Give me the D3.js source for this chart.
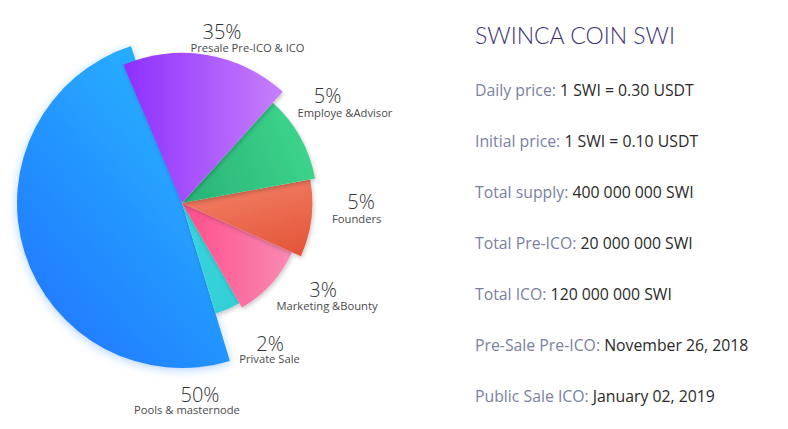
<!DOCTYPE html>
<html>
<head>
<meta charset="utf-8">
<script src="https://cdn.jsdelivr.net/npm/d3@7"></script>
<style>
  html, body { margin: 0; padding: 0; background: #ffffff; }
  svg { display: block; }
</style>
</head>
<body>
<svg id="chart" width="788" height="429"></svg>
<script>
// ---- data ----
const categories = ["Presale Pre-ICO & ICO", "Employe &Advisor", "Founders", "Marketing &Bounty", "Private Sale", "Pools & masternode"];
const percentLabels = [35, 5, 5, 3, 2, 50];            // printed percentages
const arcShare = [18.1, 10.4, 9.6, 10.0, 3.6, 48.3];   // visible angular share of each slice (% of circle)
const reach = [0.91, 0.82, 0.79, 0.73, 0.70, 1.0];    // relative slice radius
const infoKeys = ["Daily price:", "Initial price:", "Total supply:", "Total Pre-ICO:", "Total ICO:", "Pre-Sale Pre-ICO:", "Public Sale ICO:"];
const infoValues = ["1 SWI = 0.30 USDT", "1 SWI = 0.10 USDT", "400 000 000 SWI", "20 000 000 SWI", "120 000 000 SWI", "November 26, 2018", "January 02, 2019"];
const title = "SWINCA COIN SWI";

// ---- styles / layout ----
const gradients = [
  {from: "#8e2ffd", to: "#c780fb", x1: 0, y1: 0, x2: 1, y2: 0},
  {from: "#2cb87a", to: "#40d98f", x1: 0, y1: 0.3, x2: 1, y2: 0},
  {from: "#f27f66", to: "#e4573a", x1: 0.3, y1: 0, x2: 0.7, y2: 1},
  {from: "#ff4d89", to: "#f98bb4", x1: 0, y1: 0, x2: 1, y2: 0},
  {from: "#33d3dc", to: "#36d0d6", x1: 0, y1: 0, x2: 1, y2: 1},
  {from: "#2abaff", to: "#1e74ff", x1: 0.9, y1: 0, x2: 0.1, y2: 1}
];
const drawOrder = [5, 4, 3, 2, 1, 0];
const labelLayout = [
  {px: 222, py: 39,  nx: 247.5, ny: 51.7},
  {px: 327.5, py: 103.3, nx: 345, ny: 116.7},
  {px: 361, py: 209.3, nx: 356.7, ny: 222.7},
  {px: 323, py: 296.7, nx: 327, ny: 310.3},
  {px: 270, py: 351, nx: 269.5, ny: 362.7},
  {px: 200, py: 402, nx: 187, ny: 413.5}
];
const cx = 182, cy = 203, maxR = 165;
const deg = Math.PI / 180;

const svg = d3.select("#chart");
const defs = svg.append("defs");

gradients.forEach((g, i) => {
  const lg = defs.append("linearGradient").attr("id", "grad" + i)
    .attr("x1", g.x1).attr("y1", g.y1).attr("x2", g.x2).attr("y2", g.y2);
  lg.append("stop").attr("offset", "0%").attr("stop-color", g.from);
  lg.append("stop").attr("offset", "100%").attr("stop-color", g.to);
});

const sh = defs.append("filter").attr("id", "shadow")
  .attr("x", "-20%").attr("y", "-20%").attr("width", "140%").attr("height", "140%");
sh.append("feDropShadow").attr("dx", 1).attr("dy", 2).attr("stdDeviation", 2)
  .attr("flood-color", "#000").attr("flood-opacity", 0.22);

const glow = defs.append("filter").attr("id", "glow")
  .attr("x", "-20%").attr("y", "-20%").attr("width", "140%").attr("height", "140%");
glow.append("feDropShadow").attr("dx", 0).attr("dy", 2).attr("stdDeviation", 5)
  .attr("flood-color", "#2a7dff").attr("flood-opacity", 0.35);

const rScale = d3.scaleLinear().domain([0, 1]).range([0, maxR]);
const pie = d3.pie().sort(null).value(d => d).startAngle(-23 * deg).endAngle(337 * deg);
const arcsData = pie(arcShare);

const g = svg.append("g").attr("transform", `translate(${cx},${cy})`);
const arc = d3.arc().innerRadius(0);

drawOrder.forEach(i => {
  const d = arcsData[i];
  const extra = i === 5 ? 5 * deg : 0;  // big slice tucks a little under its neighbour
  g.append("path")
    .attr("d", arc({startAngle: d.startAngle, endAngle: d.endAngle + extra, outerRadius: rScale(reach[i])}))
    .attr("fill", `url(#grad${i})`)
    .attr("filter", i === 5 ? "url(#glow)" : "url(#shadow)");
});

// labels
const lab = svg.append("g");
categories.forEach((c, i) => {
  const L = labelLayout[i];
  lab.append("text").attr("x", L.px).attr("y", L.py)
    .attr("text-anchor", "middle")
    .style("font-family", "'Open Sans', sans-serif").style("font-weight", 300)
    .style("font-size", "20px").attr("fill", "#333333")
    .text(percentLabels[i] + "%");
  lab.append("text").attr("x", L.nx).attr("y", L.ny)
    .attr("text-anchor", "middle")
    .style("font-family", "'Open Sans', sans-serif")
    .style("font-size", "11.2px").attr("fill", "#4a4a4a")
    .text(c);
});

// info panel
const info = svg.append("g").attr("transform", "translate(475,0)");
info.append("text").attr("x", 0).attr("y", 44)
  .style("font-family", "Lato, sans-serif").style("font-weight", 300)
  .style("font-size", "24px").attr("fill", "#3d3270")
  .attr("textLength", 200).attr("lengthAdjust", "spacingAndGlyphs")
  .text(title);

const rowY = d3.scalePoint().domain(d3.range(infoKeys.length)).range([96, 402]);
infoKeys.forEach((k, i) => {
  const t = info.append("text").attr("x", 0).attr("y", rowY(i))
    .style("font-family", "'Open Sans', sans-serif").style("font-size", "15.8px");
  t.append("tspan").attr("fill", "#7a7f9f").text(k + " ");
  t.append("tspan").attr("fill", "#2a2a2a").text(infoValues[i]);
});
</script>
</body>
</html>
